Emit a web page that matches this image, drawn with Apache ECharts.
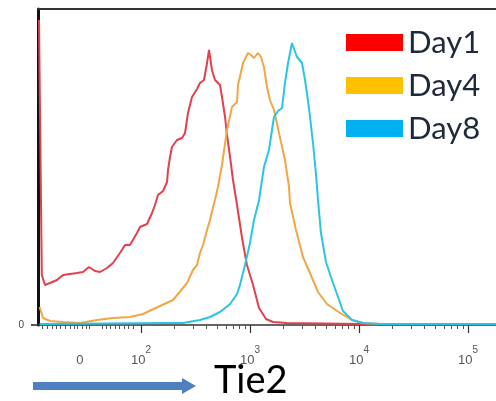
<!DOCTYPE html>
<html>
<head>
<meta charset="utf-8">
<script src="https://cdn.jsdelivr.net/npm/echarts@6/dist/echarts.min.js"></script>
<style>html,body{margin:0;padding:0;background:#fff;}#c{width:496px;height:401px;}</style>
</head>
<body>
<div id="c"></div>
<script>
// x values are positions on the biexponential display scale, in decades (3 = 10^3)
const seriesNames = ["Day1", "Day4", "Day8"];
const tickPos = [1.44, 2, 3, 4, 5];
const tickBase = ["0", "10", "10", "10", "10"];
const tickExp = ["", "2", "3", "4", "5"];
const lowMinorTicks = [1.092,1.138,1.183,1.220,1.257,1.303,1.349,1.385,1.413,1.459,1.495,1.523,1.642,1.679,1.716,1.761,1.798,1.844,1.881,1.927];

const day1 = [
[1.064,305],[1.09,50],[1.119,40],[1.165,42],[1.229,45],[1.284,50],[1.349,51],[1.413,52],[1.468,53],[1.523,58],[1.578,54],[1.624,53],[1.688,57],[1.743,62],[1.807,72],[1.853,80],[1.899,80],[1.963,92],[1.991,98],[2.055,101],[2.101,112],[2.128,120],[2.156,130],[2.202,134],[2.239,143],[2.248,155],[2.266,168],[2.284,178],[2.330,185],[2.376,187],[2.404,192],[2.431,212],[2.468,228],[2.514,236],[2.541,242],[2.578,245],[2.606,262],[2.624,275],[2.651,255],[2.679,245],[2.725,240],[2.743,228],[2.771,208],[2.789,190],[2.817,168],[2.844,145],[2.881,120],[2.927,87],[2.972,60],[3.028,40],[3.083,17],[3.147,6],[3.211,3],[3.339,2],[4.009,1],[5.257,1]
];
const day4 = [
[1.07,18],[1.101,7],[1.165,4],[1.284,3],[1.44,2],[1.596,5],[1.743,7],[1.899,8],[2.018,11],[2.174,19],[2.294,25],[2.385,37],[2.422,42],[2.477,55],[2.514,60],[2.541,72],[2.569,80],[2.606,95],[2.633,105],[2.661,118],[2.679,125],[2.706,138],[2.743,160],[2.789,195],[2.835,218],[2.881,223],[2.890,240],[2.936,262],[2.982,272],[3.009,270],[3.037,267],[3.073,272],[3.101,268],[3.128,258],[3.156,238],[3.183,225],[3.220,215],[3.266,192],[3.321,165],[3.358,138],[3.367,122],[3.422,95],[3.486,68],[3.550,52],[3.624,33],[3.706,21],[3.826,12],[3.936,5],[4.037,2],[4.193,1],[5.257,1]
];
const day8 = [
[1.07,1],[2.239,2],[2.385,2],[2.541,5],[2.633,8],[2.725,13],[2.817,21],[2.881,31],[2.908,40],[2.954,60],[3.0,82],[3.037,105],[3.083,125],[3.128,158],[3.174,175],[3.220,208],[3.257,214],[3.294,217],[3.321,242],[3.349,262],[3.385,282],[3.431,268],[3.477,262],[3.505,245],[3.541,217],[3.578,182],[3.606,150],[3.624,125],[3.651,92],[3.697,63],[3.752,45],[3.798,31],[3.853,14],[3.936,5],[4.037,2],[4.193,1],[5.257,1]
];

const XMIN = 1.055, XMAX = 5.257, YMAX = 316;
const lineColors = ["#e2404c", "#f2a644", "#2ac4e6"];
const legendColors = ["#ff0000", "#ffc000", "#00b0f0"];

const majorTicks = [2, 3, 4, 5];
const logMinor = [];
for (let n = 2; n <= 5; n++) for (let k = 2; k <= 9; k++) {
  const v = n + Math.log10(k);
  if (v < XMAX) logMinor.push(v);
}
const minorTicks = lowMinorTicks.concat(logMinor);

const chart = echarts.init(document.getElementById('c'), null, {renderer: 'canvas'});
const datasets = [day1, day4, day8];
chart.setOption({
  animation: false,
  grid: {left: 38, right: 0, top: 9, bottom: 76, containLabel: false},
  legend: {
    orient: 'vertical', left: 346, top: 27, padding: 0,
    itemWidth: 57, itemHeight: 17, itemGap: 12, icon: 'rect',
    textStyle: {fontFamily: 'Lato', fontSize: 31, color: '#1e2a3c', lineHeight: 30},
    data: seriesNames.map((n, i) => ({name: n, itemStyle: {color: legendColors[i]}}))
  },
  xAxis: [
    {
      type: 'value', min: XMIN, max: XMAX, position: 'bottom',
      axisLine: {show: true, onZero: false, lineStyle: {color: '#333', width: 1.5}},
      axisTick: {show: true, customValues: majorTicks, length: 8, lineStyle: {color: '#333', width: 1.2}},
      axisLabel: {
        show: true, customValues: tickPos, margin: 20,
        formatter: function (v) {
          for (let i = 0; i < tickPos.length; i++) if (Math.abs(tickPos[i] - v) < 1e-6) {
            return tickExp[i] ? '{b|' + tickBase[i] + '}{s|' + tickExp[i] + '}' : '{b|' + tickBase[i] + '}';
          }
          return '';
        },
        rich: {
          b: {fontFamily: 'Liberation Sans', fontSize: 13, color: '#555', lineHeight: 22, verticalAlign: 'bottom'},
          s: {fontFamily: 'Liberation Sans', fontSize: 10, color: '#555', lineHeight: 12, verticalAlign: 'top'}
        }
      },
      splitLine: {show: false}
    },
    {
      type: 'value', min: XMIN, max: XMAX, position: 'bottom', gridIndex: 0,
      axisLine: {show: false, onZero: false},
      axisTick: {show: true, customValues: minorTicks, length: 4, lineStyle: {color: '#555', width: 1}},
      axisLabel: {show: false},
      splitLine: {show: false}
    },
    {
      type: 'value', min: XMIN, max: XMAX, position: 'top', gridIndex: 0,
      axisLine: {show: true, onZero: false, lineStyle: {color: '#333', width: 2}},
      axisTick: {show: false}, axisLabel: {show: false}, splitLine: {show: false}
    }
  ],
  yAxis: {
    type: 'value', min: 0, max: YMAX,
    axisLine: {show: true, onZero: false, lineStyle: {color: '#111', width: 3}},
    axisTick: {show: true, customValues: [0], length: 7, lineStyle: {color: '#222', width: 1.5}},
    axisLabel: {show: true, customValues: [0], margin: 14, fontFamily: 'Liberation Sans', fontSize: 10, color: '#444'},
    splitLine: {show: false}
  },
  series: datasets.map((d, i) => ({
    name: seriesNames[i], type: 'line', data: d, xAxisIndex: 0,
    showSymbol: false, symbol: 'none', smooth: false,
    itemStyle: {color: legendColors[i]},
    lineStyle: {color: lineColors[i], width: 2},
    clip: true
  })),
  graphic: [
    {
      type: 'polygon',
      shape: {points: [[33,382],[182,382],[182,378],[196,386],[182,394],[182,390],[33,390]]},
      style: {fill: '#4f7fbe'}
    },
    {
      type: 'text', left: 214, top: 362,
      style: {text: 'Tie2', fontFamily: 'Lato', fontSize: 38, fill: '#000'}
    }
  ]
});
</script>
</body>
</html>
